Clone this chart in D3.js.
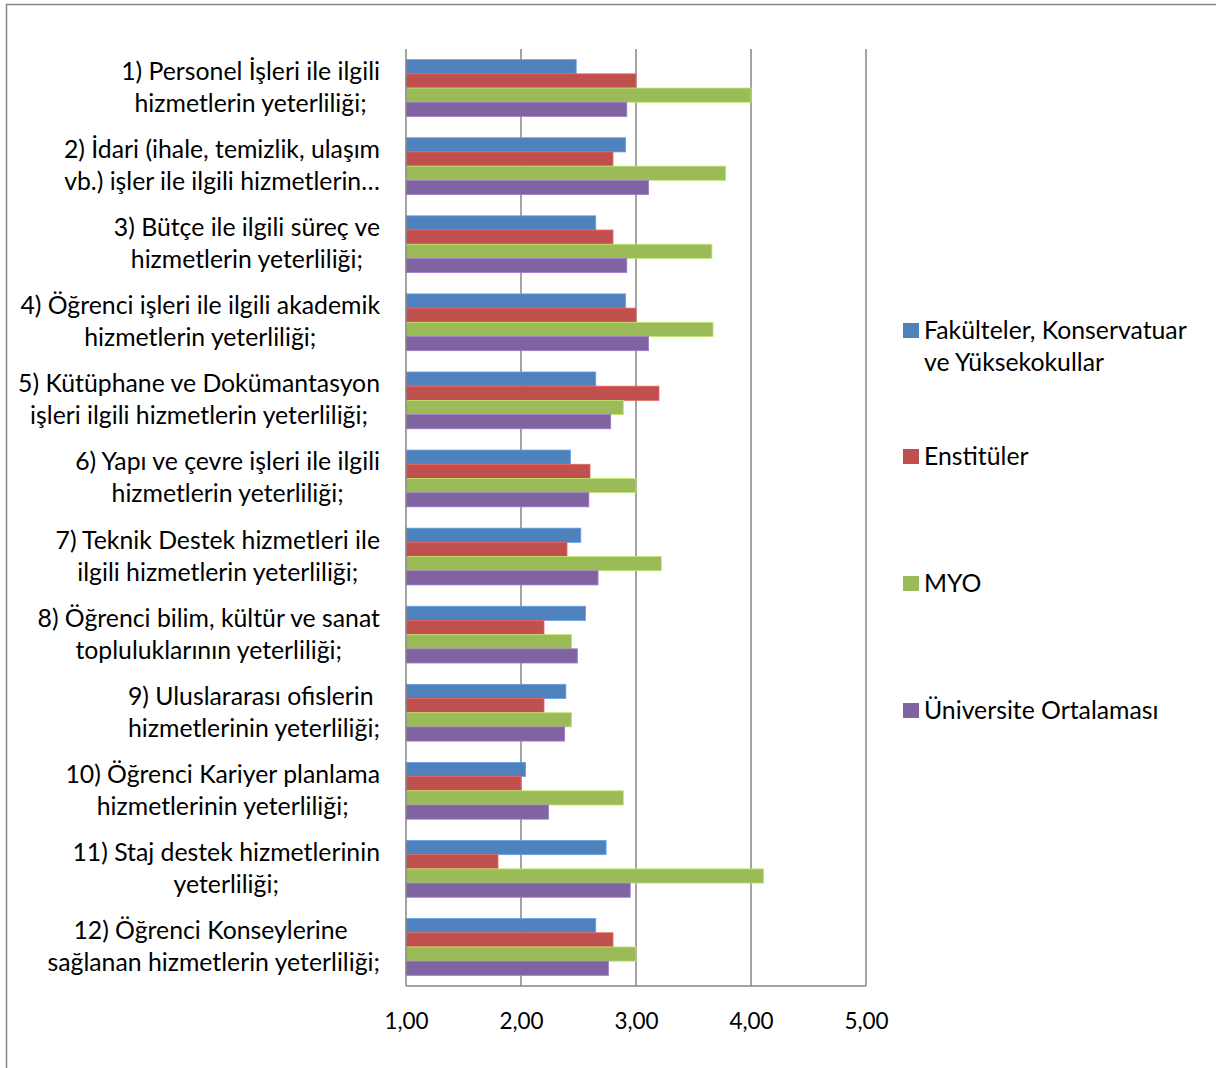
<!DOCTYPE html>
<html><head><meta charset="utf-8">
<script src="https://cdn.jsdelivr.net/npm/d3@7"></script>
<style>body{margin:0;background:#fff}svg{display:block}text{font-family:Lato,"Noto Sans",sans-serif;fill:#000}</style>
</head><body>
<svg id="c" width="1216" height="1068"></svg>
<script>
const categories = [
  ["1) Personel İşleri ile ilgili", "hizmetlerin yeterliliği;"],
  ["2) İdari (ihale, temizlik, ulaşım", "vb.) işler ile ilgili hizmetlerin…"],
  ["3) Bütçe ile ilgili süreç ve", "hizmetlerin yeterliliği;"],
  ["4) Öğrenci işleri ile ilgili akademik", "hizmetlerin yeterliliği;"],
  ["5) Kütüphane ve Dokümantasyon", "işleri ilgili hizmetlerin yeterliliği;"],
  ["6) Yapı ve çevre işleri ile ilgili", "hizmetlerin yeterliliği;"],
  ["7) Teknik Destek hizmetleri ile", "ilgili hizmetlerin yeterliliği;"],
  ["8) Öğrenci bilim, kültür ve sanat", "topluluklarının yeterliliği;"],
  ["9) Uluslararası ofislerin ", "hizmetlerinin yeterliliği;"],
  ["10) Öğrenci Kariyer planlama", "hizmetlerinin yeterliliği;"],
  ["11) Staj destek hizmetlerinin", "yeterliliği;"],
  ["12) Öğrenci Konseylerine ", "sağlanan hizmetlerin yeterliliği;"]
];
const seriesNames = [["Fakülteler, Konservatuar", "ve Yüksekokullar"], ["Enstitüler"], ["MYO"], ["Üniversite Ortalaması"]];
const seriesColors = ["#4F81BD", "#C0504D", "#9BBB59", "#8064A2"];
const fakulteler = [2.48, 2.91, 2.65, 2.91, 2.65, 2.43, 2.52, 2.56, 2.39, 2.04, 2.74, 2.65];
const enstituler = [3.00, 2.80, 2.80, 3.00, 3.20, 2.60, 2.40, 2.20, 2.20, 2.00, 1.80, 2.80];
const myo =        [4.00, 3.78, 3.66, 3.67, 2.89, 3.00, 3.22, 2.44, 2.44, 2.89, 4.11, 3.00];
const universite = [2.92, 3.11, 2.92, 3.11, 2.78, 2.59, 2.67, 2.49, 2.38, 2.24, 2.95, 2.76];
const tickValues = [1, 2, 3, 4, 5];
const series = [fakulteler, enstituler, myo, universite];

const svg = d3.select("#c");
svg.append("rect").attr("x", 6.5).attr("y", 4.5).attr("width", 1220).attr("height", 1080)
  .attr("fill", "none").attr("stroke", "#868686").attr("stroke-width", 1.5);

const pLeft = 406, pRight = 866, pTop = 49, pBottom = 986;
const x = d3.scaleLinear().domain([1, 5]).range([pLeft, pRight]);
const y = d3.scaleBand().domain(d3.range(categories.length)).range([pTop, pBottom]).paddingInner(0.2727).paddingOuter(0.1364);
const ys = d3.scaleBand().domain(d3.range(4)).range([0, y.bandwidth()]);

svg.append("g").selectAll("line").data(tickValues.slice(1)).join("line")
  .attr("x1", d => x(d)).attr("x2", d => x(d)).attr("y1", pTop).attr("y2", pBottom)
  .attr("stroke", "#868686").attr("stroke-width", 1.5);

const g = svg.append("g");
series.forEach((vals, si) => {
  g.append("g").selectAll("rect").data(vals).join("rect")
    .attr("x", x(1))
    .attr("y", (d, i) => y(i) + ys(si))
    .attr("width", d => x(d) - x(1))
    .attr("height", ys.bandwidth())
    .attr("fill", seriesColors[si])
    .attr("stroke", d3.color(seriesColors[si]).brighter(0.6))
    .attr("stroke-width", 0.8);
});

svg.append("line").attr("x1", pLeft).attr("x2", pLeft).attr("y1", pTop).attr("y2", pBottom)
  .attr("stroke", "#868686").attr("stroke-width", 1.5);
svg.append("line").attr("x1", pLeft).attr("x2", pRight).attr("y1", pBottom).attr("y2", pBottom)
  .attr("stroke", "#868686").attr("stroke-width", 1.5);

const xAxis = d3.axisBottom(x).tickValues(tickValues).tickSize(0).tickPadding(0)
  .tickFormat(d => d3.format(".2f")(d).replace(".", ","));
const ax = svg.append("g").attr("transform", `translate(0,${pBottom})`).call(xAxis);
ax.select(".domain").remove();
ax.selectAll("text").attr("font-size", 22.5).attr("font-family", "Lato, sans-serif").attr("dy", 0).attr("y", 43).attr("fill", "#000");

const fs = 24.8;
const lab = svg.append("g").attr("font-size", fs);
categories.forEach((lines, i) => {
  const cy = y(i) + y.bandwidth() / 2;
  const tmp = lines.map(l => lab.append("text").attr("xml:space", "preserve").style("white-space", "pre").text(l));
  const widths = tmp.map(t => t.node().getComputedTextLength());
  const maxW = d3.max(widths);
  const cx = 380 - maxW / 2;
  tmp.forEach((t, k) => {
    t.attr("x", cx).attr("text-anchor", "middle")
      .attr("y", cy + (k - (lines.length - 1) / 2) * 32 + 8);
  });
});

const legendY = [331, 457, 584, 711];
const leg = svg.append("g").attr("font-size", fs);
seriesNames.forEach((names, si) => {
  leg.append("rect").attr("x", 903).attr("y", legendY[si] - 8).attr("width", 16).attr("height", 15).attr("fill", seriesColors[si]);
  names.forEach((n, k) => {
    leg.append("text").attr("x", 924).attr("y", legendY[si] + 8 + k * 32).text(n);
  });
});
</script>
</body></html>
